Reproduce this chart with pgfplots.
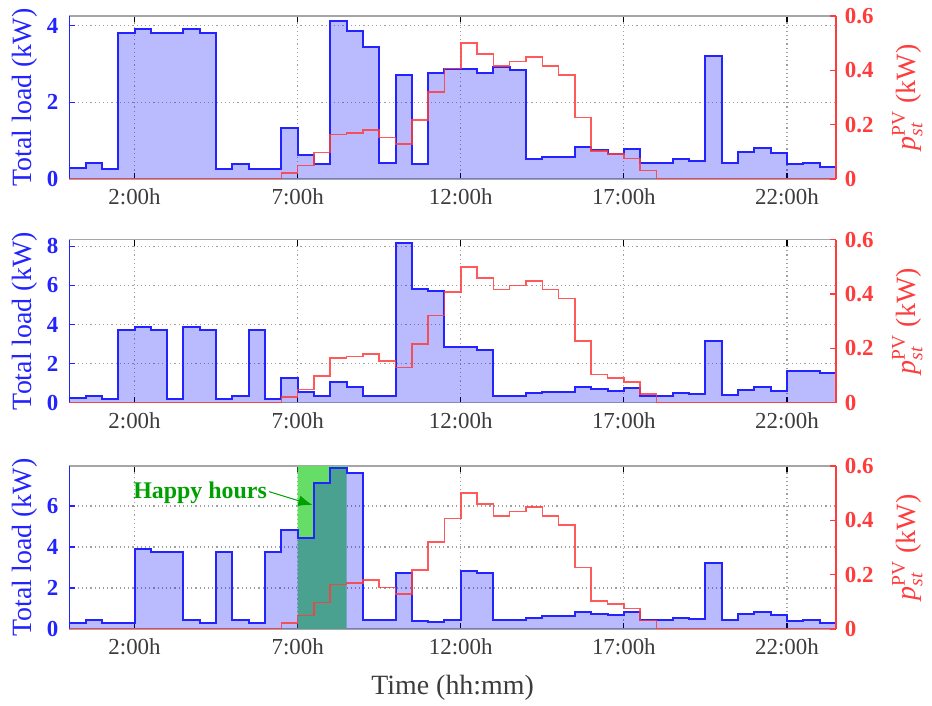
\documentclass[border=0pt]{standalone}
\usepackage{pgfplots}
\usepackage{pgfplotstable}
\usepackage{amsmath}
\pgfplotsset{compat=1.18}
\usetikzlibrary{arrows.meta}
\usepackage{fontspec}
\setmainfont{Liberation Serif}
\definecolor{lblue}{RGB}{35,35,255}
\definecolor{lred}{RGB}{255,60,60}
\definecolor{hgreen}{RGB}{102,221,102}
\definecolor{tgreen}{RGB}{0,160,0}
\definecolor{tickgray}{RGB}{60,60,60}

\pgfplotstableread{
t v
0.0 0
6.5 0.021
7.0 0.049
7.5 0.098
8.0 0.164
8.5 0.170
9.0 0.180
9.5 0.153
10.0 0.129
10.5 0.217
11.0 0.321
11.5 0.407
12.0 0.500
12.5 0.460
13.0 0.417
13.5 0.432
14.0 0.448
14.5 0.417
15.0 0.383
15.5 0.227
16.0 0.104
16.5 0.092
17.0 0.076
17.5 0.031
18.0 0
23.5 0
}\pv

\pgfplotstableread{
t v
0.0 0.28
0.5 0.41
1.0 0.26
1.5 3.80
2.0 3.91
2.5 3.80
3.0 3.80
3.5 3.90
4.0 3.80
4.5 0.26
5.0 0.39
5.5 0.26
6.0 0.26
6.5 1.32
7.0 0.63
7.5 0.39
8.0 4.13
8.5 3.87
9.0 3.43
9.5 0.43
10.0 2.71
10.5 0.38
11.0 2.77
11.5 2.86
12.0 2.86
12.5 2.77
13.0 2.91
13.5 2.84
14.0 0.51
14.5 0.58
15.0 0.58
15.5 0.83
16.0 0.76
16.5 0.65
17.0 0.78
17.5 0.41
18.0 0.43
18.5 0.52
19.0 0.48
19.5 3.21
20.0 0.43
20.5 0.71
21.0 0.80
21.5 0.67
22.0 0.38
22.5 0.41
23.0 0.30
23.5 0.30
}\loadA

\pgfplotstableread{
t v
0.0 0.25
0.5 0.36
1.0 0.19
1.5 3.71
2.0 3.88
2.5 3.71
3.0 0.19
3.5 3.88
4.0 3.71
4.5 0.19
5.0 0.36
5.5 3.71
6.0 0.19
6.5 1.25
7.0 0.53
7.5 0.34
8.0 1.08
8.5 0.82
9.0 0.36
9.5 0.36
10.0 8.17
10.5 5.80
11.0 5.72
11.5 2.83
12.0 2.83
12.5 2.71
13.0 0.36
13.5 0.36
14.0 0.48
14.5 0.53
15.0 0.53
15.5 0.79
16.0 0.69
16.5 0.60
17.0 0.74
17.5 0.36
18.0 0.36
18.5 0.48
19.0 0.45
19.5 3.14
20.0 0.39
20.5 0.65
21.0 0.79
21.5 0.62
22.0 1.60
22.5 1.60
23.0 1.51
23.5 1.51
}\loadB

\pgfplotstableread{
t v
0.0 0.28
0.5 0.44
1.0 0.28
1.5 0.28
2.0 3.90
2.5 3.74
3.0 3.74
3.5 0.44
4.0 0.28
4.5 3.77
5.0 0.44
5.5 0.28
6.0 3.77
6.5 4.83
7.0 4.42
7.5 7.14
8.0 7.84
8.5 7.63
9.0 0.44
9.5 0.44
10.0 2.72
10.5 0.39
11.0 0.36
11.5 0.44
12.0 2.85
12.5 2.75
13.0 0.44
13.5 0.44
14.0 0.55
14.5 0.63
15.0 0.63
15.5 0.81
16.0 0.73
16.5 0.68
17.0 0.81
17.5 0.44
18.0 0.44
18.5 0.55
19.0 0.47
19.5 3.20
20.0 0.44
20.5 0.73
21.0 0.81
21.5 0.68
22.0 0.39
22.5 0.44
23.0 0.28
23.5 0.28
}\loadC

\pgfplotstableread{
t v
7.0 7.95
8.5 7.95
}\happy

\newcommand{\tickfont}{\fontsize{11.5}{13}\selectfont}
\newcommand{\labfont}{\fontsize{14}{16}\selectfont}

\pgfplotsset{
  common/.style={
    scale only axis, width=383.3bp, height=81.5bp, anchor=south west,
    xmin=0, xmax=23.5, ymin=0,
    tick align=inside, major tick length=3bp,
    /pgf/number format/assume math mode=true,
  },
  leftax/.style={
    common,
    axis y line*=left,
    xtick={2,7,12,17,22},
    xticklabels={2:00h,7:00h,12:00h,17:00h,22:00h},
    xmajorgrids, ymajorgrids,
    grid style={gray!75, line width=0.6bp, dash pattern=on 0.6bp off 1.5bp},
    x axis line style={gray!70, line width=0.7bp},
    y axis line style={lblue, line width=0.8bp},
    ytick style={lblue, line width=0.6bp},
    xtick style={black, line width=0.6bp},
    x tick label style={font=\tickfont, text=tickgray, yshift=-1.2bp},
    y tick label style={font=\tickfont\bfseries, text=lblue, xshift=-2bp},
    ylabel={Total load (kW)},
    every axis y label/.style={at={(axis description cs:-0.0578,0.5)}, rotate=90, anchor=center, font=\labfont, text=lblue},
  },
  rightax/.style={
    common,
    axis y line*=right, axis x line=none,
    ymax=0.6, ytick={0,0.2,0.4,0.6}, yticklabels={0,0.2,0.4,0.6},
    y axis line style={lred, line width=0.8bp},
    ytick style={lred, line width=0.6bp},
    y tick label style={font=\tickfont\bfseries, text=lred, xshift=1bp},
    ylabel={$\textit{p}_{\textit{st}}^{\textrm{PV}}$ (kW)},
    every axis y label/.style={at={(axis description cs:1.093,0.5)}, rotate=90, anchor=center, font=\labfont, text=lred},
  },
  bfill/.style={const plot, draw=none, fill=blue, fill opacity=0.27},
  bline/.style={const plot, lblue, line width=1bp},
  rline/.style={const plot, lred, line width=0.8bp, opacity=0.85},
}

\begin{document}
\begin{tikzpicture}
\useasboundingbox (0,0) rectangle (466bp,353bp);

% ---------- panel 1
\begin{axis}[leftax, at={(34.65bp,263.5bp)}, ymax=4.25, ytick={0,2,4}]
\addplot[bfill] table {\loadA} \closedcycle;
\addplot[bline] table {\loadA};
\end{axis}
\begin{axis}[rightax, at={(34.65bp,263.5bp)}]
\addplot[rline] table {\pv};
\end{axis}

% ---------- panel 2
\begin{axis}[leftax, at={(34.65bp,151.65bp)}, ymax=8.34, ytick={0,2,4,6,8}]
\addplot[bfill] table {\loadB} \closedcycle;
\addplot[bline] table {\loadB};
\end{axis}
\begin{axis}[rightax, at={(34.65bp,151.65bp)}]
\addplot[rline] table {\pv};
\end{axis}

% ---------- panel 3
\begin{axis}[leftax, at={(34.65bp,38.5bp)}, ymax=7.95, ytick={0,2,4,6},
  xlabel={Time (hh:mm)},
  every axis x label/.style={at={(axis description cs:0.5,-0.362)}, anchor=center, font=\labfont, text=tickgray}]
\addplot[const plot, draw=none, fill=hgreen] table {\happy} \closedcycle;
\addplot[bfill] table {\loadC} \closedcycle;
\addplot[bline] table {\loadC};
\node[font=\fontsize{12}{14}\selectfont\bfseries, text=tgreen] at (axis cs:4.01,6.62) {Happy hours};
\draw[-{Latex[length=7bp,width=5.5bp]}, tgreen, line width=0.5bp] (axis cs:6.12,6.70) -- (axis cs:7.45,6.05);
\end{axis}
\begin{axis}[rightax, at={(34.65bp,38.5bp)}]
\addplot[rline] table {\pv};
\end{axis}
\end{tikzpicture}
\end{document}
